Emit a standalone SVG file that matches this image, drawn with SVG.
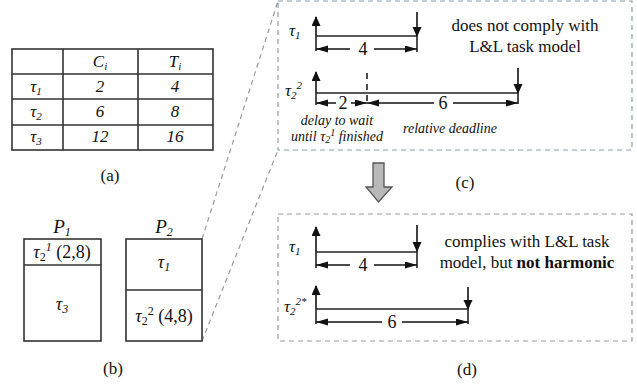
<svg xmlns="http://www.w3.org/2000/svg" width="637" height="385" viewBox="0 0 637 385" font-family="'Liberation Serif', serif">
<style>
text{font-family:'Liberation Serif',serif;fill:#111}
.t{font-size:17px}
.i{font-style:italic}
.ln{stroke:#222;stroke-width:1.6;fill:none}
.tb{stroke:#333;stroke-width:1.6;fill:none}
.dc{stroke:#8c9eab;stroke-width:1.2;fill:none;stroke-dasharray:5,4}
.dd{stroke:#9a9a9a;stroke-width:1.2;fill:none;stroke-dasharray:5,4}
.ar{stroke:#111;stroke-width:1.6;fill:none;marker-end:url(#ah)}
.dm{stroke:#111;stroke-width:1.5;fill:none;marker-end:url(#dh)}
.vd{stroke:#222;stroke-width:1.6;stroke-dasharray:6,5}
</style>
<defs>
<marker id="ah" markerUnits="userSpaceOnUse" markerWidth="10" markerHeight="12" refX="9" refY="4.5" orient="auto"><path d="M0,0 L10,4.5 L0,9 z" fill="#111"/></marker>
<marker id="dh" markerUnits="userSpaceOnUse" markerWidth="13" markerHeight="10" refX="12" refY="3.5" orient="auto"><path d="M0,0 L12,3.5 L0,7 z" fill="#111"/></marker>
</defs>
<rect width="637" height="385" fill="#fff"/>

<g id="connectors">
<line class="dd" x1="202" y1="239" x2="278" y2="1"/>
<line class="dd" x1="202" y1="341" x2="278" y2="150"/>
</g>

<g id="table">
<rect class="tb" x="12" y="49" width="201" height="101"/>
<line class="tb" x1="63" y1="49" x2="63" y2="150"/>
<line class="tb" x1="138" y1="49" x2="138" y2="150"/>
<line class="tb" x1="12" y1="74" x2="213" y2="74"/>
<line class="tb" x1="12" y1="99" x2="213" y2="99"/>
<line class="tb" x1="12" y1="125" x2="213" y2="125"/>
<g class="t i" text-anchor="middle">
<text x="100" y="67">C<tspan font-size="11" dy="3">i</tspan></text>
<text x="175" y="67">T<tspan font-size="11" dy="3">i</tspan></text>
<text x="36" y="92">τ<tspan font-size="11" dy="3">1</tspan></text>
<text x="36" y="117">τ<tspan font-size="11" dy="3">2</tspan></text>
<text x="36" y="142">τ<tspan font-size="11" dy="3">3</tspan></text>
<text x="100" y="92">2</text>
<text x="175" y="92">4</text>
<text x="100" y="117">6</text>
<text x="175" y="117">8</text>
<text x="100" y="142">12</text>
<text x="175" y="142">16</text>
</g>
<text class="t" x="110" y="181" text-anchor="middle">(a)</text>
</g>

<g id="P1">
<text x="62" y="233" font-size="19" class="i" text-anchor="middle">P<tspan font-size="12" dy="3">1</tspan></text>
<rect class="tb" x="24" y="239" width="77" height="102"/>
<line class="tb" x1="24" y1="265" x2="101" y2="265"/>
<text x="62" y="258" font-size="18" text-anchor="middle"><tspan class="i">τ</tspan><tspan font-size="12" dy="3">2</tspan><tspan font-size="12" dy="-10" class="i">1</tspan><tspan dy="7"> (2,8)</tspan></text>
<text x="62" y="310" font-size="18" class="i" text-anchor="middle">τ<tspan font-size="12" dy="3">3</tspan></text>
</g>

<g id="P2">
<text x="164" y="233" font-size="19" class="i" text-anchor="middle">P<tspan font-size="12" dy="3">2</tspan></text>
<rect class="tb" x="126" y="239" width="76" height="102"/>
<line class="tb" x1="126" y1="290" x2="202" y2="290"/>
<text x="164" y="268" font-size="18" class="i" text-anchor="middle">τ<tspan font-size="12" dy="3">1</tspan></text>
<text x="164" y="322" font-size="18" text-anchor="middle"><tspan class="i">τ</tspan><tspan font-size="12" dy="3">2</tspan><tspan font-size="12" dy="-10">2</tspan><tspan dy="7"> (4,8)</tspan></text>
<text class="t" x="113" y="374" text-anchor="middle">(b)</text>
</g>

<g id="panel-c">
<rect class="dc" x="278" y="1" width="354" height="149"/>
<text x="289" y="36" font-size="17" class="i">τ<tspan font-size="11" dy="3">1</tspan></text>
<line class="ln" x1="316" y1="51" x2="316" y2="36"/>
<line class="ar" x1="316" y1="36" x2="316" y2="17"/>
<line class="ln" x1="316" y1="36" x2="417" y2="36"/>
<line class="ar" x1="417" y1="12" x2="417" y2="36"/>
<line class="ln" x1="417" y1="36" x2="417" y2="52"/>
<line class="dm" x1="350" y1="49" x2="316" y2="49"/>
<line class="dm" x1="374" y1="49" x2="417" y2="49"/>
<text x="363" y="55" font-size="18" text-anchor="middle">4</text>

<text x="285" y="96" font-size="17" class="i">τ<tspan font-size="11" dy="3">2</tspan><tspan font-size="11" dy="-10">2</tspan></text>
<line class="ln" x1="316" y1="105" x2="316" y2="93"/>
<line class="ar" x1="316" y1="93" x2="316" y2="72"/>
<line class="ln" x1="316" y1="93" x2="518" y2="93"/>
<line class="ar" x1="518" y1="68" x2="518" y2="93"/>
<line class="ln" x1="518" y1="93" x2="518" y2="104"/>
<line class="vd" x1="367" y1="73" x2="367" y2="106"/>
<line class="dm" x1="336" y1="103" x2="316" y2="103"/>
<line class="dm" x1="351" y1="103" x2="367" y2="103"/>
<text x="343" y="109" font-size="18" text-anchor="middle">2</text>
<line class="dm" x1="434" y1="103" x2="367" y2="103"/>
<line class="dm" x1="453" y1="103" x2="518" y2="103"/>
<text x="443" y="109" font-size="18" text-anchor="middle">6</text>
<text x="337" y="125" font-size="14" class="i" text-anchor="middle">delay to wait</text>
<text x="337" y="141" font-size="14" class="i" text-anchor="middle">until τ<tspan font-size="10" dy="2">2</tspan><tspan font-size="10" dy="-7">1</tspan><tspan dy="5"> finished</tspan></text>
<text x="450" y="133" font-size="14" class="i" text-anchor="middle">relative deadline</text>
<text class="t" x="525" y="31" text-anchor="middle">does not comply with</text>
<text class="t" x="525" y="52" text-anchor="middle">L&amp;L task model</text>
<text class="t" x="465" y="188" text-anchor="middle">(c)</text>
</g>

<g id="big-arrow">
<path d="M373,163 L384,163 L384,187 L392,187 L378.5,202 L366,187 L373,187 z" fill="#b8b8b8" stroke="#555" stroke-width="1.3" stroke-linejoin="miter"/>
</g>

<g id="panel-d">
<rect class="dd" x="278" y="214" width="354" height="127"/>
<text x="289" y="252" font-size="17" class="i">τ<tspan font-size="11" dy="3">1</tspan></text>
<line class="ln" x1="316" y1="268" x2="316" y2="252"/>
<line class="ar" x1="316" y1="252" x2="316" y2="227"/>
<line class="ln" x1="316" y1="252" x2="417" y2="252"/>
<line class="ar" x1="417" y1="225" x2="417" y2="251"/>
<line class="ln" x1="417" y1="251" x2="417" y2="268"/>
<line class="dm" x1="350" y1="265" x2="316" y2="265"/>
<line class="dm" x1="374" y1="265" x2="417" y2="265"/>
<text x="363" y="271" font-size="18" text-anchor="middle">4</text>

<text x="284" y="312" font-size="17" class="i">τ<tspan font-size="11" dy="3">2</tspan><tspan font-size="11" dy="-10">2*</tspan></text>
<line class="ln" x1="316" y1="324" x2="316" y2="309"/>
<line class="ar" x1="316" y1="309" x2="316" y2="286"/>
<line class="ln" x1="316" y1="309" x2="468" y2="309"/>
<line class="ar" x1="468" y1="287" x2="468" y2="309"/>
<line class="ln" x1="468" y1="309" x2="468" y2="324"/>
<line class="dm" x1="382" y1="322" x2="316" y2="322"/>
<line class="dm" x1="402" y1="322" x2="468" y2="322"/>
<text x="392" y="328" font-size="18" text-anchor="middle">6</text>
<text class="t" x="527" y="247" text-anchor="middle">complies with L&amp;L task</text>
<text class="t" x="527" y="268" text-anchor="middle">model, but <tspan font-weight="bold">not harmonic</tspan></text>
<text class="t" x="467" y="375" text-anchor="middle">(d)</text>
</g>
</svg>
